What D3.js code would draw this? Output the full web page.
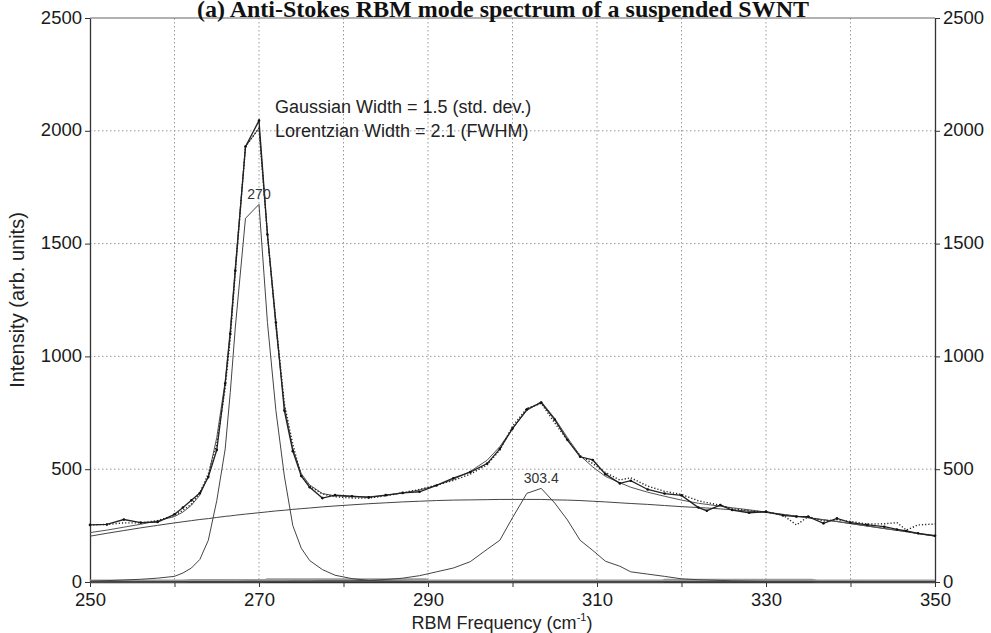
<!DOCTYPE html>
<html>
<head>
<meta charset="utf-8">
<script src="https://cdn.jsdelivr.net/npm/d3@7/dist/d3.min.js"></script>
<style>
  html, body { margin: 0; padding: 0; background: #fff; }
  svg { display: block; }
  .tick text { font-family: "Liberation Sans", Arial, sans-serif; font-size: 18.5px; fill: #1a1a1a; }
</style>
</head>
<body>
<svg id="chart" width="991" height="633"></svg>
<script>
// ---------------- DATA ----------------
const titleText = "(a) Anti-Stokes RBM mode spectrum of a suspended SWNT";
const xLabelText = "RBM Frequency (cm";
const yLabelText = "Intensity (arb. units)";
const annotationLines = ["Gaussian Width = 1.5 (std. dev.)", "Lorentzian Width = 2.1 (FWHM)"];
const peakLabels = [{ f: 270, v: 1674, text: "270" }, { f: 303.4, v: 415, text: "303.4" }];

const xTicks = [250, 260, 270, 280, 290, 300, 310, 320, 330, 340, 350];
const xTickLabels = [250, 270, 290, 310, 330, 350];
const yTicks = [0, 500, 1000, 1500, 2000, 2500];

const freq = [250, 252, 254, 256, 258, 260, 261, 262, 263, 264, 265, 266, 266.6, 267.2, 268.4,
  270, 271, 272, 273, 274, 275, 276, 277.5, 279, 281, 283, 285, 287, 289, 291, 293, 295, 297,
  298.5, 300, 301.7, 303.4, 305, 306.5, 308, 309.5, 311, 312.7, 314, 316, 318, 320, 322, 323,
  324.6, 326, 328, 330, 332, 333.6, 335, 336.8, 338.4, 340, 342, 344, 345.5, 346.6, 348, 350];

// measured spectrum (solid line with dots)
const measured = [253, 255, 277, 263, 266, 300, 330, 362, 394, 465, 585, 880, 1100, 1380, 1930,
  2045, 1540, 1150, 760, 580, 470, 420, 372, 385, 380, 375, 385, 395, 400, 428, 460, 487, 525,
  590, 680, 765, 795, 720, 630, 555, 541, 478, 437, 449, 410, 392, 384, 330, 316,
  341, 319, 307, 312, 295, 290, 290, 260, 282, 263, 253, 245, 233, 226, 216, 205];

// second trace (dotted)
const dottedTrace = [253, 255, 262, 262, 272, 295, 318, 345, 395, 480, 610, 860, 1080, 1380, 1930,
  2012, 1540, 1150, 790, 610, 470, 425, 390, 378, 372, 372, 382, 396, 410, 430, 450, 478, 520,
  585, 690, 770, 792, 705, 628, 560, 525, 485, 452, 462, 425, 402, 388, 360, 352,
  340, 325, 316, 310, 297, 253, 290, 270, 276, 268, 257, 258, 263, 230, 253, 257];

// total fit (thin smooth line)
const fitTotal = [219, 230, 243, 256, 271, 290, 310, 340, 385, 470, 640, 890, 1120, 1400, 1930,
  2012, 1540, 1130, 780, 590, 480, 430, 392, 382, 378, 378, 384, 394, 408, 428, 455, 490, 540,
  600, 680, 760, 800, 725, 640, 560, 510, 468, 440, 420, 398, 380, 363, 349, 344,
  336, 329, 320, 310, 300, 292, 285, 276, 268, 259, 248, 237, 229, 224, 215, 205];

// broad background component
const background = [203, 216, 228, 240, 251, 262, 267, 272, 277, 281, 286, 291, 293, 296, 301,
  307, 311, 315, 318, 322, 325, 328, 333, 337, 342, 347, 351, 355, 358, 361, 363, 364, 365,
  366, 366, 366, 366, 364, 363, 361, 358, 355, 351, 348, 344, 339, 334, 330, 328,
  324, 320, 314, 308, 299, 292, 285, 276, 268, 259, 248, 237, 229, 223, 214, 203];

// Voigt component at 270
const peak270 = [4, 6, 9, 12, 17, 25, 40, 62, 100, 185, 360, 590, 840, 1130, 1612,
  1674, 1150, 760, 470, 250, 150, 95, 55, 30, 15, 7, 4, 3, 2, 2, 2, 1, 1,
  1, 1, 1, 1, 1, 1, 1, 1, 1, 1, 1, 1, 1, 1, 1, 1,
  1, 1, 1, 1, 1, 1, 1, 1, 1, 1, 1, 1, 1, 1, 1, 1];

// Voigt component at 303.4
const peak303 = [1, 1, 1, 1, 2, 2, 2, 2, 2, 2, 2, 2, 2, 2, 3,
  3, 3, 3, 3, 4, 4, 4, 5, 5, 5, 7, 11, 17, 28, 45, 62, 90, 145,
  185, 285, 393, 415, 350, 275, 185, 140, 92, 70, 45, 35, 25, 14, 10, 9,
  7, 5, 4, 3, 3, 3, 3, 2, 2, 2, 2, 1, 1, 1, 1, 1];

// near-zero residual band
const residualFreq = [250, 261, 262, 270.6, 271, 289.7, 290, 317.8, 318, 335.4, 336, 350];
const residual = [3, 3, 5, 5, 9, 9, 3, 3, 7, 7, 3, 3];

// ---------------- CHART ----------------
const svg = d3.select("#chart");
const mL = 90, mR = 935, mT = 18, mB = 582;

const x = d3.scaleLinear().domain([250, 350]).range([mL, mR]);
const y = d3.scaleLinear().domain([0, 2500]).range([mB, mT]);

// grid
const grid = svg.append("g");
grid.selectAll("line.vg").data(xTicks.filter(d => d > 250 && d < 350)).enter().append("line")
  .attr("x1", d => x(d)).attr("x2", d => x(d)).attr("y1", mT).attr("y2", mB)
  .attr("stroke", "#999").attr("stroke-width", 1).attr("stroke-dasharray", "1.5,2.5");
grid.selectAll("line.hg").data(yTicks.filter(d => d > 0 && d < 2500)).enter().append("line")
  .attr("x1", mL).attr("x2", mR).attr("y1", d => y(d)).attr("y2", d => y(d))
  .attr("stroke", "#999").attr("stroke-width", 1).attr("stroke-dasharray", "1.5,2.5");
// top border
svg.append("line").attr("x1", mL).attr("x2", mR).attr("y1", y(2500)).attr("y2", y(2500))
  .attr("stroke", "#666").attr("stroke-width", 1.2);

// axes
const fmt = d3.format("d");
const axL = svg.append("g").attr("transform", `translate(${mL},0)`)
  .call(d3.axisLeft(y).tickValues(yTicks).tickFormat(fmt).tickSize(5).tickSizeOuter(0).tickPadding(3));
const axR = svg.append("g").attr("transform", `translate(${mR},0)`)
  .call(d3.axisRight(y).tickValues(yTicks).tickFormat(fmt).tickSize(5).tickSizeOuter(0).tickPadding(3));
const axB = svg.append("g").attr("transform", `translate(0,${mB})`)
  .call(d3.axisBottom(x).tickValues(xTicks).tickSize(5).tickSizeOuter(0).tickPadding(6)
    .tickFormat(d => xTickLabels.includes(d) ? fmt(d) : ""));
[axL, axR, axB].forEach(a => {
  a.selectAll("path.domain").attr("stroke", "#333").attr("stroke-width", 1.3);
  a.selectAll(".tick line").attr("stroke", "#333");
});
axL.selectAll(".tick text").attr("dy", "0.28em");
axR.selectAll(".tick text").attr("dy", "0.28em");

const line = d3.line().x((d, i) => x(freq[i])).y(d => y(d));

// residual band near zero
svg.append("path")
  .attr("d", d3.line().x((d, i) => x(residualFreq[i])).y(d => y(d))(residual))
  .attr("fill", "none").attr("stroke", "#9a9a9a").attr("stroke-width", 3.5);
svg.append("line").attr("x1", mL).attr("x2", mR).attr("y1", y(0)).attr("y2", y(0))
  .attr("stroke", "#333").attr("stroke-width", 1.6);

// components
[background, peak270, peak303].forEach(s => {
  svg.append("path").attr("d", line(s)).attr("fill", "none")
    .attr("stroke", "#444").attr("stroke-width", 1);
});
// total fit
svg.append("path").attr("d", line(fitTotal)).attr("fill", "none")
  .attr("stroke", "#555").attr("stroke-width", 1);
// dotted trace
svg.append("path").attr("d", line(dottedTrace)).attr("fill", "none")
  .attr("stroke", "#222").attr("stroke-width", 1.4).attr("stroke-dasharray", "1.2,2");
// measured
svg.append("path").attr("d", line(measured)).attr("fill", "none")
  .attr("stroke", "#222").attr("stroke-width", 1.3);
svg.selectAll("circle.m").data(measured).enter().append("circle")
  .attr("cx", (d, i) => x(freq[i])).attr("cy", d => y(d)).attr("r", 1.3).attr("fill", "#111");

// peak labels
svg.selectAll("text.pk").data(peakLabels).enter().append("text")
  .attr("x", d => x(d.f)).attr("y", d => y(d.v) - 5)
  .attr("text-anchor", "middle")
  .attr("font-family", "Liberation Sans, Arial, sans-serif").attr("font-size", 14).attr("fill", "#333")
  .text(d => d.text);

// annotation
svg.selectAll("text.ann").data(annotationLines).enter().append("text")
  .attr("x", 275).attr("y", (d, i) => 113 + i * 24)
  .attr("font-family", "Liberation Sans, Arial, sans-serif").attr("font-size", 18).attr("fill", "#222")
  .text(d => d);

// title
svg.append("text").attr("x", 503).attr("y", 17).attr("text-anchor", "middle")
  .attr("font-family", "Liberation Serif, Times New Roman, serif").attr("font-weight", "bold")
  .attr("font-size", 24).attr("fill", "#111").text(titleText);

// axis labels
const xl = svg.append("text").attr("x", 502).attr("y", 629).attr("text-anchor", "middle")
  .attr("font-family", "Liberation Sans, Arial, sans-serif").attr("font-size", 18).attr("fill", "#222");
xl.append("tspan").text(xLabelText);
xl.append("tspan").attr("dy", -8).attr("font-size", 11).text("-1");
xl.append("tspan").attr("dy", 8).text(")");

svg.append("text").attr("transform", `translate(24,${(mT + mB) / 2}) rotate(-90)`)
  .attr("text-anchor", "middle")
  .attr("font-family", "Liberation Sans, Arial, sans-serif").attr("font-size", 20).attr("fill", "#222")
  .text(yLabelText);
</script>
</body>
</html>
